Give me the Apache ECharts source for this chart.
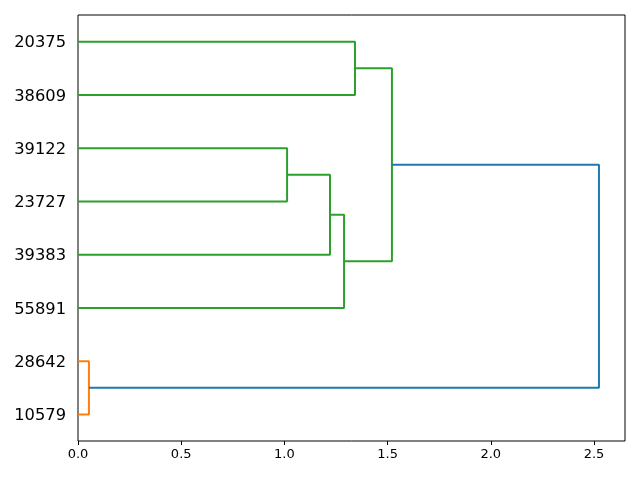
<!DOCTYPE html>
<html>
<head>
<meta charset="utf-8">
<script src="https://cdn.jsdelivr.net/npm/echarts@6/dist/echarts.min.js"></script>
<style>html,body{margin:0;padding:0;background:#fff}#c{width:640px;height:480px}</style>
</head>
<body>
<div id="c"></div>
<script>
// Leaves in display order, bottom to top
var leafLabels = ['10579', '28642', '55891', '39383', '23727', '39122', '38609', '20375'];
// Merges: [childA, childB, distance]; nodes 0..7 are leaves, 8.. are merged clusters
var mergeA = [0, 4, 3, 2, 6, 11, 8];
var mergeB = [1, 5, 9, 10, 7, 12, 13];
var mergeDist = [0.053, 1.013, 1.221, 1.289, 1.342, 1.521, 2.524];
var mergeColor = ['#ff7f0e', '#2ca02c', '#2ca02c', '#2ca02c', '#2ca02c', '#2ca02c', '#1f77b4'];
var xTicks = [0, 0.5, 1.0, 1.5, 2.0, 2.5];

var nLeaves = leafLabels.length;
var leafPos = leafLabels.map(function (_, i) { return 10 * i + 5; });
var nodePos = leafPos.slice();
var nodeH = leafPos.map(function () { return 0; });
var series = [];
for (var k = 0; k < mergeDist.length; k++) {
  var a = mergeA[k], b = mergeB[k], d = mergeDist[k];
  series.push({
    type: 'line',
    silent: true,
    symbol: 'none',
    animation: false,
    lineStyle: { color: mergeColor[k], width: 2 },
    data: [[nodeH[a], nodePos[a]], [d, nodePos[a]], [d, nodePos[b]], [nodeH[b], nodePos[b]]]
  });
  nodePos.push((nodePos[a] + nodePos[b]) / 2);
  nodeH.push(d);
}
var xMax = Math.max.apply(null, mergeDist) * 1.05;
// label anchor nudged slightly below the leaf line to match text baseline placement
var labelPos = leafPos.map(function (p) { return p - 0.3; });

var chart = echarts.init(document.getElementById('c'), null, { renderer: 'canvas' });
chart.setOption({
  backgroundColor: '#fff',
  animation: false,
  textStyle: { fontFamily: 'DejaVu Sans' },
  grid: { left: 78, right: 15, top: 15, bottom: 39, show: true, borderColor: '#000', borderWidth: 1, backgroundColor: 'transparent' },
  xAxis: {
    type: 'value', min: 0, max: xMax,
    axisLine: { show: false },
    splitLine: { show: false },
    axisTick: { show: true, length: 4, inside: false, lineStyle: { color: '#000' }, customValues: xTicks },
    axisLabel: { color: '#000', fontSize: 13, margin: 7, fontFamily: 'DejaVu Sans', customValues: xTicks,
      formatter: function (v) { return v.toFixed(1); } }
  },
  yAxis: {
    type: 'value', min: 0, max: 10 * nLeaves,
    axisLine: { show: false },
    splitLine: { show: false },
    axisTick: { show: false },
    axisLabel: { color: '#000', fontSize: 16.3, margin: 12, fontFamily: 'DejaVu Sans', customValues: labelPos,
      formatter: function (v) { var i = Math.round((v - 5) / 10); return leafLabels[i] || ''; } }
  },
  series: series
});
</script>
</body>
</html>
